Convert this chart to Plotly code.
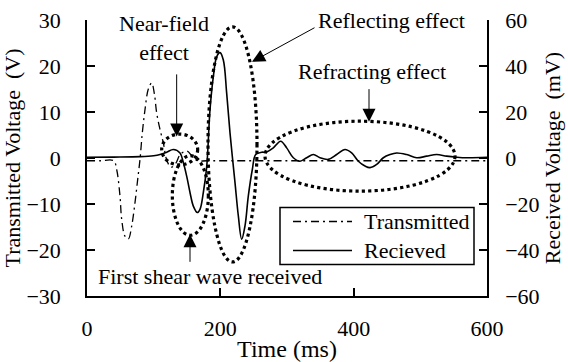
import plotly.graph_objects as go

# Transmitted pulse (V, left axis)
t_time = [0, 20, 40, 44.5, 49.5, 52, 57, 62, 67, 72, 76, 79.5, 83, 87, 92, 97, 101, 104.5,
          109.5, 114.5, 119.5, 126, 133, 140, 150, 158, 166, 180, 300, 450, 600]
t_volt = [-0.6, -0.6, -0.6, -2.5, -8.3, -13.3, -17.0, -17.6, -14.8, -9.7, -4.7, -0.3, 5.5,
          10.5, 15.0, 16.3, 14.0, 9.8, 6.2, 3.3, -0.4, -2.0, -1.2, 0.8, 1.5, 0.3, -0.6,
          -0.6, -0.6, -0.6, -0.6]

# Received signal (mV, right axis)
r_time = [0, 40, 80, 100, 109.5, 119.5, 129.5, 139.5, 144.5, 149.5, 154.5, 159.5, 165.5,
          169.5, 174.5, 179.5, 184.5, 189.5, 194.5, 199.5, 204.5, 209.5, 214.5, 222, 227,
          232, 237, 242, 248, 253, 262, 269.5, 279.5, 290.5, 299.5, 309.5, 319.5, 329.5,
          339.5, 349.5, 362, 374.5, 387, 397, 407, 417, 424.5, 434.5, 444.5, 454.5, 464.5,
          479.5, 494.5, 509.5, 524.5, 539.5, 554.5, 569.5, 600]
r_volt = [0.3, 0.4, 0.6, 1.0, 1.5, 2.5, 3.7, 2.2, -2.0, -7.9, -15.0, -20.9, -23.7, -22.3,
          -15.0, -4.0, 21.0, 35.4, 44.0, 45.8, 42.6, 28.2, 10.9, -10.7, -25.2, -35.3, -29.5,
          -16.5, -5.0, 1.5, 2.5, 2.6, 4.4, 7.3, 4.4, 0.1, -1.4, 0.1, 1.5, 0.1, -0.6, 1.5,
          3.7, 2.2, -1.4, -3.5, -4.2, -2.8, 0.1, 1.5, 2.2, 1.5, 0.1, 0.8, 1.5, 0.8, 0.35,
          0.1, 0.3]

# Highlighted regions: (name, x0, x1, y0, y1) in ms / V
regions = [
    ("near_field", 112, 166, -1.5, 5.2),
    ("first_shear", 128, 182, -16.8, 0.5),
    ("reflecting", 181.5, 255, -22.6, 28.5),
    ("refracting", 267, 552, -7.2, 8.0),
]

# Callouts: (text, text_x, text_y, tail_x, tail_y, tip_x, tip_y)
callouts = [
    ("Near-field<br>effect", 115.5, 26.0, 134.5, 18.5, 134.5, 4.7),
    ("Reflecting effect", 456, 30.0, 343.5, 28.5, 247.5, 20.9),
    ("Refracting effect", 427.5, 18.7, 423, 15.3, 423, 7.9),
    ("First shear wave received", 184.5, -25.7, 154.5, -22.9, 154.5, -16.6),
]

x_ticks = [0, 200, 400, 600]
left_ticks = [-30, -20, -10, 0, 10, 20, 30]
right_ticks = [-60, -40, -20, 0, 20, 40, 60]

FONT = "Liberation Serif"
TXT = 22
DASHDOT = "8px,4px,2px,4px"

fig = go.Figure()
fig.add_trace(go.Scatter(
    x=t_time, y=t_volt, name="Transmitted", mode="lines", line_shape="spline",
    line=dict(color="black", width=1.3, dash=DASHDOT), yaxis="y"))
fig.add_trace(go.Scatter(
    x=r_time, y=r_volt, name="Recieved", mode="lines", line_shape="spline",
    line=dict(color="black", width=1.6), yaxis="y2"))

for _, x0, x1, y0, y1 in regions:
    fig.add_shape(type="circle", xref="x", yref="y", x0=x0, x1=x1, y0=y0, y1=y1,
                  line=dict(color="black", width=3.2, dash="dot"), layer="above")

for text, tx, ty, ax_, ay_, hx, hy in callouts:
    fig.add_annotation(x=tx, y=ty, xref="x", yref="y", text=text, showarrow=False,
                       font=dict(family=FONT, size=TXT, color="black"))
    fig.add_annotation(x=hx, y=hy, ax=ax_, ay=ay_, xref="x", yref="y", axref="x",
                       ayref="y", text="", showarrow=True, arrowhead=2, arrowsize=2.6,
                       arrowwidth=1, arrowcolor="black", standoff=0)

# Legend box drawn inside the plot (time / left-axis coordinates)
fig.add_shape(type="rect", xref="x", yref="y", x0=289.5, x1=580.5, y0=-23.15, y1=-10.76,
              fillcolor="white", line=dict(color="black", width=1.5), layer="above")
legend_rows = [("Transmitted", -13.8, DASHDOT, 1.3), ("Recieved", -20.1, "solid", 1.6)]
for label, ly, dash, lw in legend_rows:
    fig.add_shape(type="line", xref="x", yref="y", x0=309, x1=397.5, y0=ly, y1=ly,
                  line=dict(color="black", width=lw, dash=dash), layer="above")
    fig.add_annotation(x=412, y=ly, xref="x", yref="y", xanchor="left", text=label,
                       showarrow=False, font=dict(family=FONT, size=TXT, color="black"))

axis_common = dict(showline=True, linecolor="black", linewidth=1.5, ticks="inside",
                   ticklen=8, tickwidth=1.5, tickcolor="black", showgrid=False,
                   zeroline=False, automargin=False,
                   tickfont=dict(family=FONT, size=TXT, color="black"))

fig.update_layout(
    width=568, height=362,
    margin=dict(l=87, r=81, t=20, b=66),
    paper_bgcolor="white", plot_bgcolor="white",
    font=dict(family=FONT, color="black"),
    xaxis=dict(range=[0, 600], tickvals=x_ticks, ticklabelstandoff=12,
               title=dict(text="Time (ms)", font=dict(family=FONT, size=24), standoff=0),
               **axis_common),
    yaxis=dict(range=[-30, 30], tickvals=left_ticks, ticklabelstandoff=20,
               title=dict(text="Transmitted Voltage  (V)", font=dict(family=FONT, size=TXT),
                          standoff=0),
               **axis_common),
    yaxis2=dict(range=[-60, 60], tickvals=right_ticks, overlaying="y", side="right",
                ticklabelstandoff=12,
                title=dict(text="Received Voltage  (mV)", font=dict(family=FONT, size=TXT),
                           standoff=4),
                **axis_common),
    showlegend=False,
)

fig.write_html("out.html")
